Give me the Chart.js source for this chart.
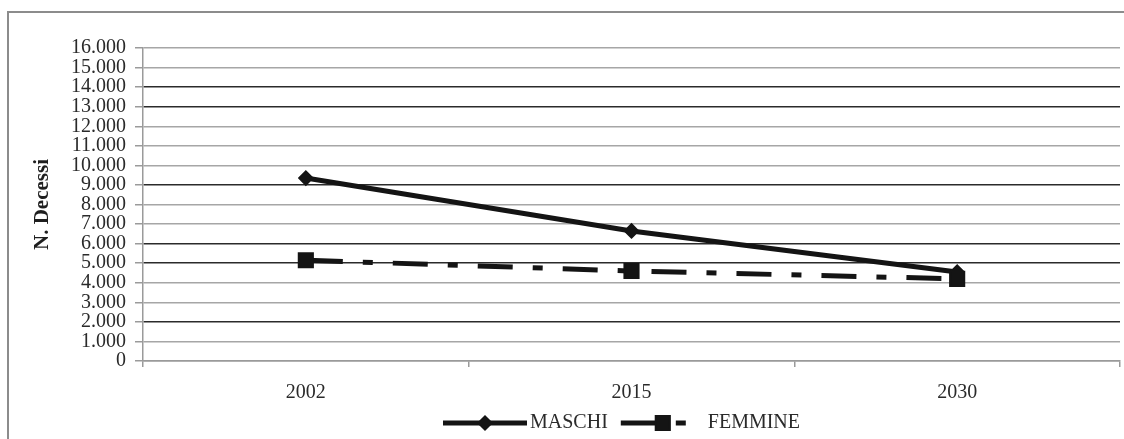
<!DOCTYPE html>
<html>
<head>
<meta charset="utf-8">
<script src="https://cdn.jsdelivr.net/npm/chart.js@4/dist/chart.umd.min.js"></script>
<style>
  html, body { margin: 0; padding: 0; background: #fff; }
  #wrap { position: relative; width: 1124px; height: 439px; overflow: hidden; }
  #frame { position: absolute; left: 7px; top: 11px; width: 1200px; height: 500px;
           border-left: 2px solid #8c8c8c; border-top: 2px solid #8c8c8c; }
  #c { position: absolute; left: 0; top: 0; }
</style>
</head>
<body>
<div id="wrap">
  <div id="frame"></div>
  <canvas id="c" width="1124" height="439"></canvas>
</div>
<script>
// Decessi stimati per sesso
const anni = ['2002', '2015', '2030'];
const maschi = [9350, 6650, 4550];
const femmine = [5150, 4600, 4200];

// Etichette dell'asse Y (separatore delle migliaia: punto)
const valoriY = [0, 1000, 2000, 3000, 4000, 5000, 6000, 7000, 8000, 9000, 10000, 11000, 12000, 13000, 14000, 15000, 16000];
const etichetteY = ['0', '1.000', '2.000', '3.000', '4.000', '5.000', '6.000', '7.000', '8.000', '9.000', '10.000', '11.000', '12.000', '13.000', '14.000', '15.000', '16.000'];

// Righe della griglia stampate più scure
const righeScure = [2000, 5000, 6000, 9000, 13000, 14000];

const SERIF = "'Liberation Serif', 'DejaVu Serif', serif";
const TESTO = '#2a2a2a';

// Legenda con tratto di linea e marcatore, come nelle serie
const legendaLinee = {
  id: 'legendaLinee',
  afterDraw(chart, args, opts) {
    const ctx = chart.ctx;
    let x = opts.x;
    const y = opts.y;
    const L = opts.lineLength;
    ctx.save();
    ctx.font = opts.font;
    chart.data.datasets.forEach((ds) => {
      ctx.save();
      ctx.strokeStyle = ds.borderColor;
      ctx.lineWidth = ds.borderWidth;
      ctx.setLineDash(ds.borderDash || []);
      ctx.lineDashOffset = 0;
      ctx.beginPath();
      ctx.moveTo(x, y);
      ctx.lineTo(x + L, y);
      ctx.stroke();
      ctx.restore();

      ctx.save();
      ctx.fillStyle = ds.pointBackgroundColor;
      ctx.strokeStyle = ds.pointBorderColor;
      ctx.lineWidth = ds.pointBorderWidth;
      Chart.helpers.drawPoint(ctx, {
        pointStyle: ds.pointStyle, radius: ds.pointRadius, rotation: 0, borderWidth: ds.pointBorderWidth
      }, x + L / 2, y);
      ctx.restore();

      ctx.fillStyle = opts.color;
      ctx.textAlign = 'left';
      ctx.textBaseline = 'middle';
      ctx.fillText(ds.label, x + L + opts.textGap, y);
      x += L + opts.textGap + ctx.measureText(ds.label).width + opts.itemGap;
    });
    ctx.restore();
  }
};

new Chart(document.getElementById('c'), {
  type: 'line',
  data: {
    labels: anni,
    datasets: [
      {
        label: 'MASCHI',
        data: maschi,
        order: 1,
        borderColor: '#141414',
        borderWidth: 5,
        pointStyle: 'rectRot',
        pointRadius: 7,
        pointHoverRadius: 7,
        pointBackgroundColor: '#141414',
        pointBorderColor: '#141414',
        pointBorderWidth: 1.5,
        tension: 0
      },
      {
        label: 'FEMMINE',
        data: femmine,
        order: 0,
        borderColor: '#141414',
        borderWidth: 5,
        borderDash: [35, 20, 10, 20],
        // il tratteggio riparte a ogni segmento
        segment: {
          borderDashOffset: (c) => (c.p0DataIndex === 0 ? 83 : 65)
        },
        pointStyle: 'rect',
        pointRadius: 10,
        pointHoverRadius: 10,
        pointBackgroundColor: '#141414',
        pointBorderColor: '#141414',
        pointBorderWidth: 2,
        tension: 0
      }
    ]
  },
  options: {
    responsive: false,
    animation: false,
    events: [],
    layout: { autoPadding: false, padding: { left: 0, right: 4, top: 48, bottom: 33 } },
    plugins: {
      legend: { display: false },
      tooltip: { enabled: false },
      legendaLinee: {
        x: 443, y: 423, lineLength: 84, textGap: 3, itemGap: 13,
        font: "20px " + SERIF, color: TESTO
      }
    },
    scales: {
      x: {
        type: 'category',
        offset: true,
        grid: { display: true, drawOnChartArea: false, offset: true, tickLength: 6, color: '#9a9a9a', lineWidth: 1.5 },
        border: { display: true, color: '#9a9a9a', width: 1.5 },
        ticks: { color: TESTO, font: { family: SERIF, size: 20 }, padding: 14, maxRotation: 0 },
        afterFit: (s) => { s.height = 45; }
      },
      y: {
        min: 0,
        max: 16000,
        afterBuildTicks: (s) => { s.ticks = valoriY.map((v) => ({ value: v })); },
        ticks: {
          autoSkip: false,
          color: TESTO,
          font: { family: SERIF, size: 20 },
          padding: 9,
          callback: (v) => etichetteY[valoriY.indexOf(v)]
        },
        grid: {
          color: (c) => (c.tick.value === 0 ? '#9a9a9a' : (righeScure.includes(c.tick.value) ? '#2b2b2b' : '#a6a6a6')),
          lineWidth: 1.5,
          tickLength: 8,
          tickColor: '#9a9a9a'
        },
        border: { display: true, color: '#9a9a9a', width: 1.5 },
        title: {
          display: true,
          text: 'N. Decessi',
          color: '#1e1e1e',
          font: { family: SERIF, size: 21, weight: 'bold' },
          padding: { top: 30, bottom: 0 }
        },
        afterFit: (s) => { s.width = 143; }
      }
    }
  },
  plugins: [legendaLinee]
});
</script>
</body>
</html>
